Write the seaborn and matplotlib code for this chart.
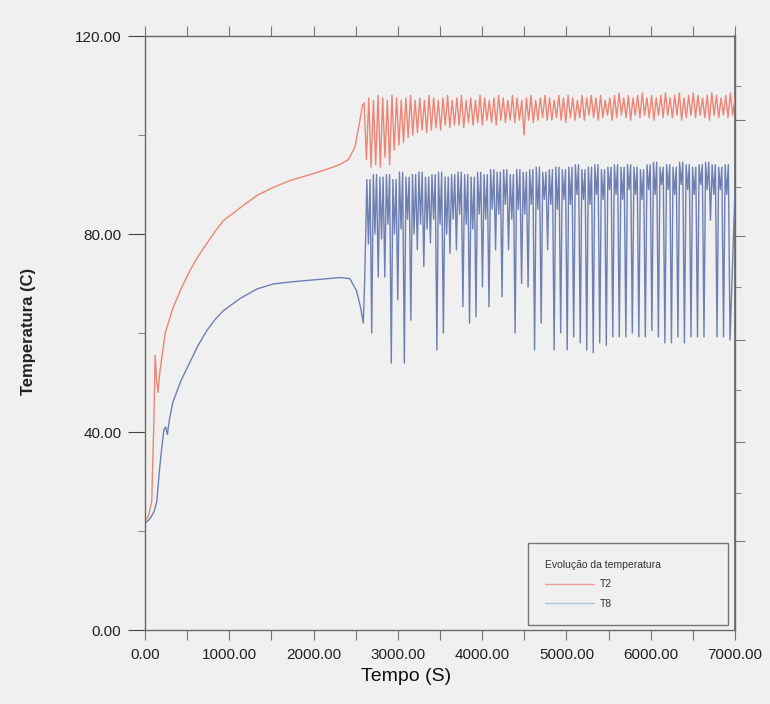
import numpy as np
import pandas as pd
import matplotlib
matplotlib.use("Agg")
import matplotlib.pyplot as plt
import seaborn as sns
from matplotlib.ticker import MultipleLocator, FixedLocator, FormatStrFormatter
from matplotlib.lines import Line2D

# ---------------- data ----------------
series_names = ["T2", "T8"]
legend_title = "Evolução da temperatura"

# warm-up phase (before oscillations)
t2_warm_time = [0, 40, 80, 105, 120, 140, 155, 175, 240, 330, 430, 530, 630, 730, 830,
                930, 1130, 1330, 1520, 1720, 1920, 2110, 2310, 2410, 2490, 2550, 2580]
t2_warm_temp = [22, 23, 26, 42, 55.5, 50, 48, 52, 60, 65, 69, 72.5, 75.5, 78, 80.5,
                82.7, 85.3, 87.8, 89.4, 90.8, 91.8, 92.8, 94, 95, 97.5, 103, 106]

t8_warm_time = [0, 60, 110, 140, 170, 200, 225, 245, 265, 290, 330, 430, 530, 630, 730,
                830, 930, 1130, 1330, 1520, 1720, 1920, 2110, 2310, 2430, 2510, 2560,
                2590, 2605, 2615]
t8_warm_temp = [21.5, 22.5, 24, 26, 32, 37, 40.5, 41, 39.5, 42.5, 46, 50.5, 54, 57.5, 60.4,
                62.7, 64.5, 67, 68.9, 69.9, 70.3, 70.6, 70.9, 71.2, 71, 68.5, 65,
                62, 70, 77]

# oscillating phase, T2: one peak and one trough per cycle
t2_cycle_time = [2600, 2655, 2710, 2765, 2820, 2875, 2930, 2985, 3040, 3095,
                 3150, 3205, 3260, 3315, 3370, 3425, 3480, 3535, 3590, 3645,
                 3700, 3755, 3810, 3865, 3920, 3975, 4030, 4085, 4140, 4195,
                 4250, 4305, 4360, 4415, 4470, 4525, 4580, 4635, 4690, 4745,
                 4800, 4855, 4910, 4965, 5020, 5075, 5130, 5185, 5240, 5295,
                 5350, 5405, 5460, 5515, 5570, 5625, 5680, 5735, 5790, 5845,
                 5900, 5955, 6010, 6065, 6120, 6175, 6230, 6285, 6340, 6395,
                 6450, 6505, 6560, 6615, 6670, 6725, 6780, 6835, 6890, 6945]
t2_cycle_peak = [106.5, 107.5, 107, 108, 107.5, 107, 108, 107.5, 107, 107.5,
                 108, 107, 107.5, 107, 108, 107.5, 107, 107.5, 108, 107,
                 107.5, 108, 107, 107.5, 107, 108, 107.5, 107, 107.5, 108,
                 107.5, 107, 108, 107.5, 107, 107.5, 108, 107, 107.5, 108,
                 107.5, 107, 108, 107.5, 108, 107.5, 107, 108, 107.5, 108,
                 107.5, 108, 107, 107.5, 108, 108.5, 107.5, 108, 107.5, 108,
                 108.5, 107.5, 108, 107.5, 108, 108.5, 107.5, 108, 108.5, 107.5,
                 108, 108.5, 108, 107.5, 108, 108.5, 108, 107.5, 108, 108.5]
t2_cycle_trough = [95, 93.5, 94, 93.5, 95.5, 94, 97, 98, 98.5, 99.5,
                   100, 100.5, 101, 100.5, 101, 101.5, 101, 102, 101.5, 102,
                   102, 101.5, 102.5, 102, 102.5, 102, 103, 102.5, 102, 103,
                   102.5, 103, 102.5, 103, 100, 103, 102.5, 103, 103.5, 103,
                   103, 103.5, 103, 102.5, 103.5, 103, 103.5, 103, 104, 103.5,
                   103, 103.5, 104, 103, 103.5, 104, 103.5, 103, 104, 103.5,
                   104, 103.5, 103, 104, 103.5, 104, 103.5, 104, 103, 103.5,
                   104, 103.5, 104, 103.5, 103, 104, 103.5, 104, 103.5, 104]
t2_end_time, t2_end_temp = 7000, 107.5

# oscillating phase, T8: top, shallow dip, top, deep dip per cycle
t8_cycle_time = [2632, 2709, 2787, 2864, 2941, 3019, 3096, 3173, 3250, 3328,
                 3405, 3482, 3560, 3637, 3714, 3792, 3869, 3946, 4023, 4101,
                 4178, 4255, 4333, 4410, 4487, 4564, 4642, 4719, 4796, 4874,
                 4951, 5028, 5106, 5183, 5260, 5337, 5415, 5492, 5569, 5647,
                 5724, 5801, 5878, 5956, 6033, 6110, 6188, 6265, 6342, 6420,
                 6497, 6574, 6651, 6729, 6806, 6883]
t8_cycle_peak = [91, 92, 91.5, 92, 91, 92.5, 91.5, 92, 92.5, 91.5,
                 92, 92.5, 91.5, 92, 92.5, 92, 91.5, 92.5, 92, 93,
                 92.5, 93, 92, 93, 92.5, 93, 93.5, 92.5, 93, 93.5,
                 93, 93.5, 94, 93, 93.5, 94, 93, 93.5, 94, 93.5,
                 94, 93.5, 93, 94, 94.5, 93.5, 94, 93.5, 94.5, 94,
                 93.5, 94, 94.5, 94, 93.5, 94]
t8_cycle_shallow = [78, 80, 79, 82, 80, 81, 83, 80, 82, 81,
                    83, 82, 80, 83, 84, 82, 81, 84, 83, 85,
                    84, 86, 83, 85, 84, 86, 85, 87, 86, 85,
                    87, 86, 88, 87, 86, 88, 87, 89, 88, 87,
                    89, 88, 87, 89, 88, 90, 89, 88, 90, 89,
                    88, 90, 89, 88, 89, 88]
t8_cycle_deep = [60, 71.3, 71.3, 53.9, 66.7, 53.9, 62.6, 76.8, 73.4, 78.2,
                 56.6, 60, 76.1, 76.8, 65.3, 62, 63.3, 69.3, 65.3, 76.8,
                 67.3, 76.8, 60, 70, 69.3, 56.6, 62, 76.8, 56.6, 60,
                 56.6, 59.2, 58, 56.6, 56, 58, 57.5, 59.2, 59.2, 59.2,
                 60, 59.2, 59.2, 60.5, 59.2, 58, 58, 59.2, 58, 59.2,
                 59.2, 59.2, 82.8, 59.2, 59.2, 58.6]
t8_end_time, t8_end_temp = 7000, 89

x_ticks = [0, 1000, 2000, 3000, 4000, 5000, 6000, 7000]
y_ticks = [0, 40, 80, 120]

# ---------------- build long table ----------------
rows = []
for t, v in zip(t2_warm_time, t2_warm_temp):
    rows.append(("T2", t, v))
for t, p, tr in zip(t2_cycle_time, t2_cycle_peak, t2_cycle_trough):
    rows.append(("T2", t, p))
    rows.append(("T2", t + 27, tr))
rows.append(("T2", t2_end_time, t2_end_temp))

for t, v in zip(t8_warm_time, t8_warm_temp):
    rows.append(("T8", t, v))
for t, p, s, d in zip(t8_cycle_time, t8_cycle_peak, t8_cycle_shallow, t8_cycle_deep):
    rows.append(("T8", t, p))
    rows.append(("T8", t + 19, s))
    rows.append(("T8", t + 38, p))
    rows.append(("T8", t + 58, d))
rows.append(("T8", t8_end_time, t8_end_temp))

df = pd.DataFrame(rows, columns=["serie", "tempo", "temp"])

# ---------------- styling ----------------
sns.set_theme(style="ticks")
plt.rcParams["font.family"] = ["Liberation Sans", "DejaVu Sans"]
bg = "#f0f0f0"
red = "#ec8575"
blue = "#6e7fb4"

fig = plt.figure(figsize=(7.7, 7.04), dpi=100, facecolor=bg)
ax = fig.add_axes([145 / 770, 1 - 630 / 704, 590 / 770, 594 / 704])
ax.set_facecolor(bg)

sns.lineplot(data=df, x="tempo", y="temp", hue="serie", estimator=None, sort=False,
             palette={"T2": red, "T8": blue}, linewidth=1.0, legend=False, ax=ax)

ax.set_xlim(0, 7000)
ax.set_ylim(0, 120)

for sp in ax.spines.values():
    sp.set_visible(True)
    sp.set_color("#6a6a6a")
    sp.set_linewidth(1.0)

ax.xaxis.set_major_locator(FixedLocator(x_ticks))
ax.xaxis.set_minor_locator(MultipleLocator(500))
ax.xaxis.set_major_formatter(FormatStrFormatter("%.2f"))
ax.yaxis.set_major_locator(FixedLocator(y_ticks))
ax.yaxis.set_minor_locator(MultipleLocator(20))
ax.yaxis.set_major_formatter(FormatStrFormatter("%.2f"))

ax.tick_params(axis="x", which="both", top=True, bottom=True, direction="out",
               length=7, width=0.8, color="#777", labelsize=11, labelcolor="#222", pad=6)
ax.tick_params(axis="y", which="major", left=True, right=False, direction="out",
               length=12, width=0.8, color="#444", labelsize=11, labelcolor="#222", pad=5)
ax.tick_params(axis="y", which="minor", left=True, right=False, direction="out",
               length=5, width=0.8, color="#888")

sec = ax.secondary_yaxis("right")
sec.yaxis.set_major_locator(FixedLocator([18, 38, 58.5, 79.5, 103]))
sec.yaxis.set_minor_locator(FixedLocator([27.7, 48.5, 69.3, 89.5, 110]))
sec.tick_params(which="major", length=7, width=0.8, color="#777", labelright=False)
sec.tick_params(which="minor", length=4, width=0.8, color="#888", labelright=False)
sec.spines["right"].set_color("#6a6a6a")

ax.set_xlabel("Tempo (S)", fontsize=14, color="#111")
ax.set_ylabel("Temperatura (C)", fontsize=12, fontweight="bold", color="#222")
ax.xaxis.set_label_coords(0.442, -0.064)
ax.yaxis.set_label_coords(-0.185, 0.503)

handles = [Line2D([], [], color="#f0a090", lw=1.0),
           Line2D([], [], color="#a8c8dc", lw=1.0)]
leg = ax.legend(handles, series_names, title=legend_title, loc="lower left",
                bbox_to_anchor=(0.649, 0.008, 0.339, 0.155), mode="expand",
                fontsize=7.5, title_fontsize=7.5, frameon=True, fancybox=False,
                edgecolor="#777", facecolor=bg, framealpha=1, borderpad=1.6,
                labelspacing=0.9, handlelength=4.7, handletextpad=0.6, borderaxespad=0)
leg._legend_box.align = "left"
leg.get_frame().set_linewidth(1.0)
for txt in leg.get_texts():
    txt.set_color("#333")
leg.get_title().set_color("#333")

fig.savefig("out.png", dpi=100, facecolor=bg)
